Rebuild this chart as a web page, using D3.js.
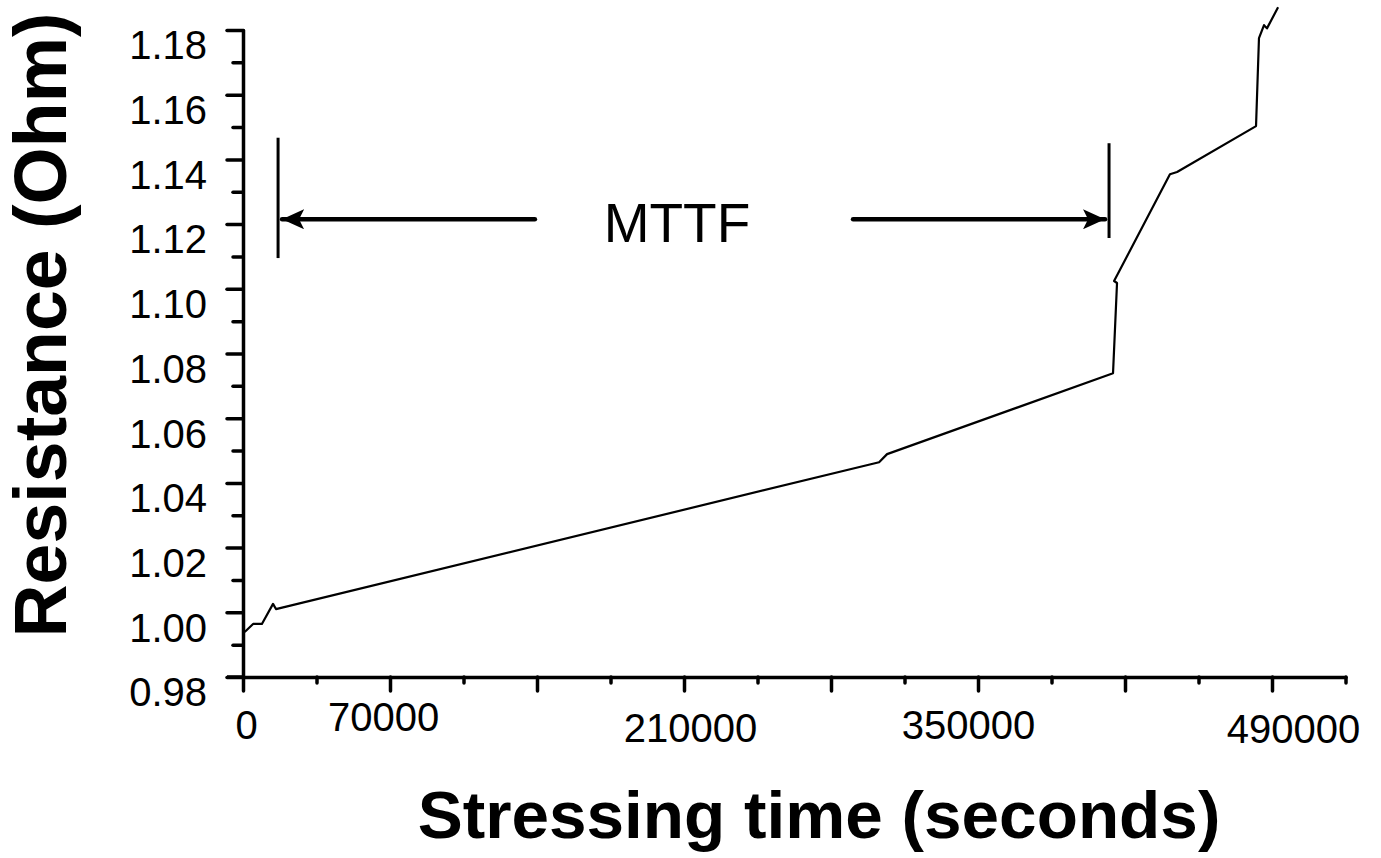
<!DOCTYPE html>
<html>
<head>
<meta charset="utf-8">
<script src="https://cdn.jsdelivr.net/npm/d3@7"></script>
<style>
    body { margin: 0; background: #fff; }
    svg { display: block; font-family: Arial, "Liberation Sans", sans-serif; }
    .axis path, .axis line { stroke: #000; stroke-width: 3.5; stroke-linecap: round; }
</style>
</head>
<body>
<div class="chart"></div>
<script>
// measured resistance curve
let timeSec = [800, 4800, 9000, 14300, 15700, 302900, 306700, 414300, 416200, 414800,
    441400, 444800, 482400, 483800, 486200, 487600, 492900];
let resistance = [0.9939, 0.9964, 0.9964, 1.0026, 1.0010, 1.0464, 1.0489, 1.0739, 1.1018, 1.1024,
    1.1354, 1.1361, 1.1503, 1.1775, 1.1815, 1.1805, 1.1870];

// axis ticks
let yMajor = [0.98, 1.00, 1.02, 1.04, 1.06, 1.08, 1.10, 1.12, 1.14, 1.16, 1.18];
let yMinor = [0.99, 1.01, 1.03, 1.05, 1.07, 1.09, 1.11, 1.13, 1.15, 1.17];
let xMajor = [0, 70000, 140000, 210000, 280000, 350000, 420000, 490000];
let xMinor = [35000, 105000, 175000, 245000, 315000, 385000, 455000, 525000];
let xLabels = [0, 70000, 210000, 350000, 490000];

// MTTF marker: start/end times, bar spans and arrow level
let mttfTimes = [16700, 412400];
let mttfShaftEnds = [139000, 290500];
let mttfBars = [[1.1095, 1.1467], [1.1157, 1.1450]];
let mttfLevel = 1.1215;

let width = 1381;
let height = 858;

let svg = d3.select('.chart')
    .append('svg')
    .attr('width', width)
    .attr('height', height);

let x = d3.scaleLinear().domain([0, 525000]).range([243, 1345.5]);
let y = d3.scaleLinear().domain([0.98, 1.18]).range([677, 30]);

// y axis: major ticks with labels, then minor ticks
let yAxis = svg.append('g')
    .attr('class', 'axis')
    .attr('transform', 'translate(' + x(0) + ',0)')
    .call(d3.axisLeft(y).tickValues(yMajor).tickSize(16).tickSizeOuter(0)
        .tickFormat(d3.format('.2f')));
yAxis.selectAll('text')
    .attr('x', -36)
    .attr('dy', '0.72em')
    .attr('font-size', 40)
    .attr('font-family', 'Arial, "Liberation Sans", sans-serif')
    .attr('fill', '#000');

svg.append('g')
    .attr('class', 'axis')
    .attr('transform', 'translate(' + x(0) + ',0)')
    .call(d3.axisLeft(y).tickValues(yMinor).tickSize(10).tickFormat(''))
    .select('.domain').remove();

// x axis
let labelNudge = {0: [3, 8], 70000: [-7, 0], 210000: [6, 11], 350000: [-10, 8], 490000: [21, 12]};

let xAxis = svg.append('g')
    .attr('class', 'axis')
    .attr('transform', 'translate(0,' + y(0.98) + ')')
    .call(d3.axisBottom(x).tickValues(xMajor).tickSize(14).tickSizeOuter(0)
        .tickFormat(d => xLabels.includes(d) ? d : ''));
xAxis.selectAll('text')
    .attr('font-size', 40)
    .attr('font-family', 'Arial, "Liberation Sans", sans-serif')
    .attr('fill', '#000')
    .attr('dy', null)
    .attr('dominant-baseline', 'central')
    .attr('x', d => labelNudge[d] ? labelNudge[d][0] : 0)
    .attr('y', d => labelNudge[d] ? 40 + labelNudge[d][1] : 40);

svg.append('g')
    .attr('class', 'axis')
    .attr('transform', 'translate(0,' + y(0.98) + ')')
    .call(d3.axisBottom(x).tickValues(xMinor).tickSize(6).tickFormat(''))
    .select('.domain').remove();

// extend x axis left to the 0.98 tick
svg.append('line')
    .attr('x1', x(0) - 16).attr('x2', x(0))
    .attr('y1', y(0.98)).attr('y2', y(0.98))
    .attr('stroke', '#000').attr('stroke-width', 3.5);

// resistance curve
let line = d3.line()
    .x((d, i) => x(timeSec[i]))
    .y(d => y(d));

svg.append('path')
    .datum(resistance)
    .attr('d', line)
    .attr('fill', 'none')
    .attr('stroke', '#000')
    .attr('stroke-width', 2.2)
    .attr('stroke-linejoin', 'round');

// MTTF annotation
svg.append('defs')
    .append('marker')
    .attr('id', 'arrow')
    .attr('viewBox', '0 0 22 20')
    .attr('refX', 22)
    .attr('refY', 10)
    .attr('markerUnits', 'userSpaceOnUse')
    .attr('markerWidth', 22)
    .attr('markerHeight', 20)
    .attr('orient', 'auto')
    .append('path')
    .attr('d', 'M0,0L22,10L0,20L5,10Z')
    .attr('fill', '#000');

mttfTimes.forEach(function(t, i) {
    svg.append('line')
        .attr('x1', x(t)).attr('x2', x(t))
        .attr('y1', y(mttfBars[i][0])).attr('y2', y(mttfBars[i][1]))
        .attr('stroke', '#000')
        .attr('stroke-width', 3);

    svg.append('line')
        .attr('x1', x(mttfShaftEnds[i])).attr('x2', x(t) + (i === 0 ? 4 : -4))
        .attr('y1', y(mttfLevel)).attr('y2', y(mttfLevel))
        .attr('stroke', '#000')
        .attr('stroke-width', 4.5)
        .attr('stroke-linecap', 'round')
        .attr('marker-end', 'url(#arrow)');
});

svg.append('text')
    .attr('x', 677)
    .attr('y', 242)
    .attr('text-anchor', 'middle')
    .attr('font-size', 55)
    .text('MTTF');

// axis titles
svg.append('text')
    .attr('x', 819)
    .attr('y', 838)
    .attr('text-anchor', 'middle')
    .attr('font-size', 67.5)
    .attr('font-weight', 'bold')
    .text('Stressing time (seconds)');

svg.append('text')
    .attr('transform', 'translate(66,325) rotate(-90)')
    .attr('text-anchor', 'middle')
    .attr('font-size', 73.5)
    .attr('font-weight', 'bold')
    .text('Resistance (Ohm)');
</script>
</body>
</html>
